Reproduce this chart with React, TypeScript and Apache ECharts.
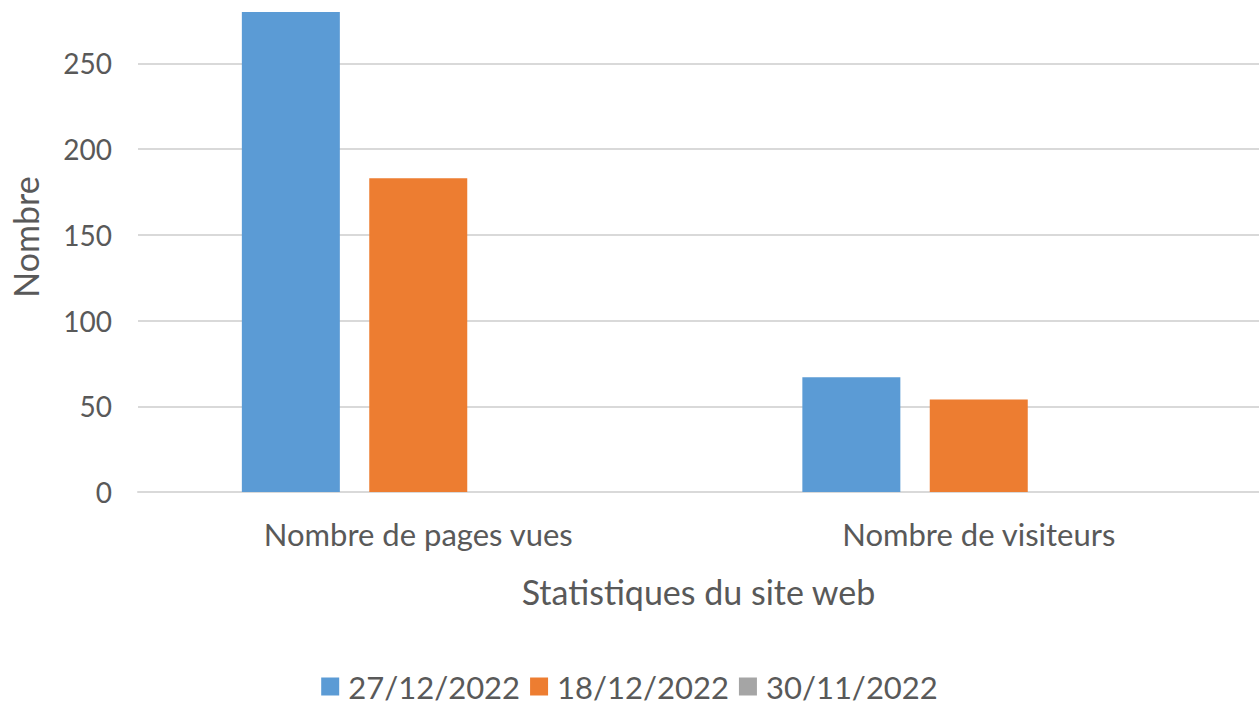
import React, { useEffect, useRef } from "react";
import * as echarts from "echarts";

const categories = ["Nombre de pages vues", "Nombre de visiteurs"];
const seriesNames = ["27/12/2022", "18/12/2022", "30/11/2022"];
const values27 = [280, 67];
const values18 = [183, 54];
const values30 = [0, 0];
const colors = ["#5b9bd5", "#ed7d31", "#a5a5a5"];

const FONT = "Lato, 'Liberation Sans', sans-serif";
const TXT = "#595959";
const GRID = "#d9d9d9";

export default function App() {
  const ref = useRef<HTMLDivElement>(null);
  useEffect(() => {
    if (!ref.current) return;
    const chart = echarts.init(ref.current, null, { renderer: "svg" });
    const data = [values27, values18, values30];
    chart.setOption({
      animation: false,
      backgroundColor: "#ffffff",
      textStyle: { fontFamily: FONT, color: TXT },
      grid: { left: 134, width: 1132, top: 12, bottom: 217, containLabel: false },
      legend: {
        bottom: 2,
        left: "center",
        icon: "rect",
        itemWidth: 18,
        itemHeight: 18,
        itemGap: 10,
        textStyle: { fontFamily: FONT, fontSize: 31, color: TXT, padding: [0, 0, 0, 4] },
        data: seriesNames,
      },
      xAxis: {
        type: "category",
        data: categories,
        name: "Statistiques du site web",
        nameLocation: "middle",
        nameGap: 82,
        nameTextStyle: { fontFamily: FONT, fontSize: 34, color: TXT },
        axisLine: { lineStyle: { color: GRID, width: 2 } },
        axisTick: { show: false },
        axisLabel: { fontFamily: FONT, fontSize: 31, color: TXT, margin: 26 },
      },
      yAxis: {
        type: "value",
        min: 0,
        max: 280,
        interval: 50,
        name: "Nombre",
        nameLocation: "middle",
        nameGap: 96,
        nameRotate: 90,
        nameTextStyle: { fontFamily: FONT, fontSize: 34, color: TXT, padding: [0, 0, 0, 30] },
        axisLine: { show: false },
        axisTick: { show: false },
        axisLabel: {
          fontFamily: FONT,
          fontSize: 28,
          color: TXT,
          margin: 26,
          showMaxLabel: false,
        },
        splitLine: {
          lineStyle: {
            color: [GRID, GRID, GRID, GRID, GRID, GRID, "rgba(0,0,0,0)"],
            width: 2,
          },
        },
      },
      series: seriesNames.map((name, i) => ({
        name,
        type: "bar",
        data: data[i],
        barWidth: 98,
        barGap: "30%",
        itemStyle: { color: colors[i] },
      })),
    });
    return () => chart.dispose();
  }, []);
  return (
    <div
      ref={ref}
      style={{ position: "absolute", left: 0, top: 0, width: 1259, height: 709 }}
    />
  );
}
